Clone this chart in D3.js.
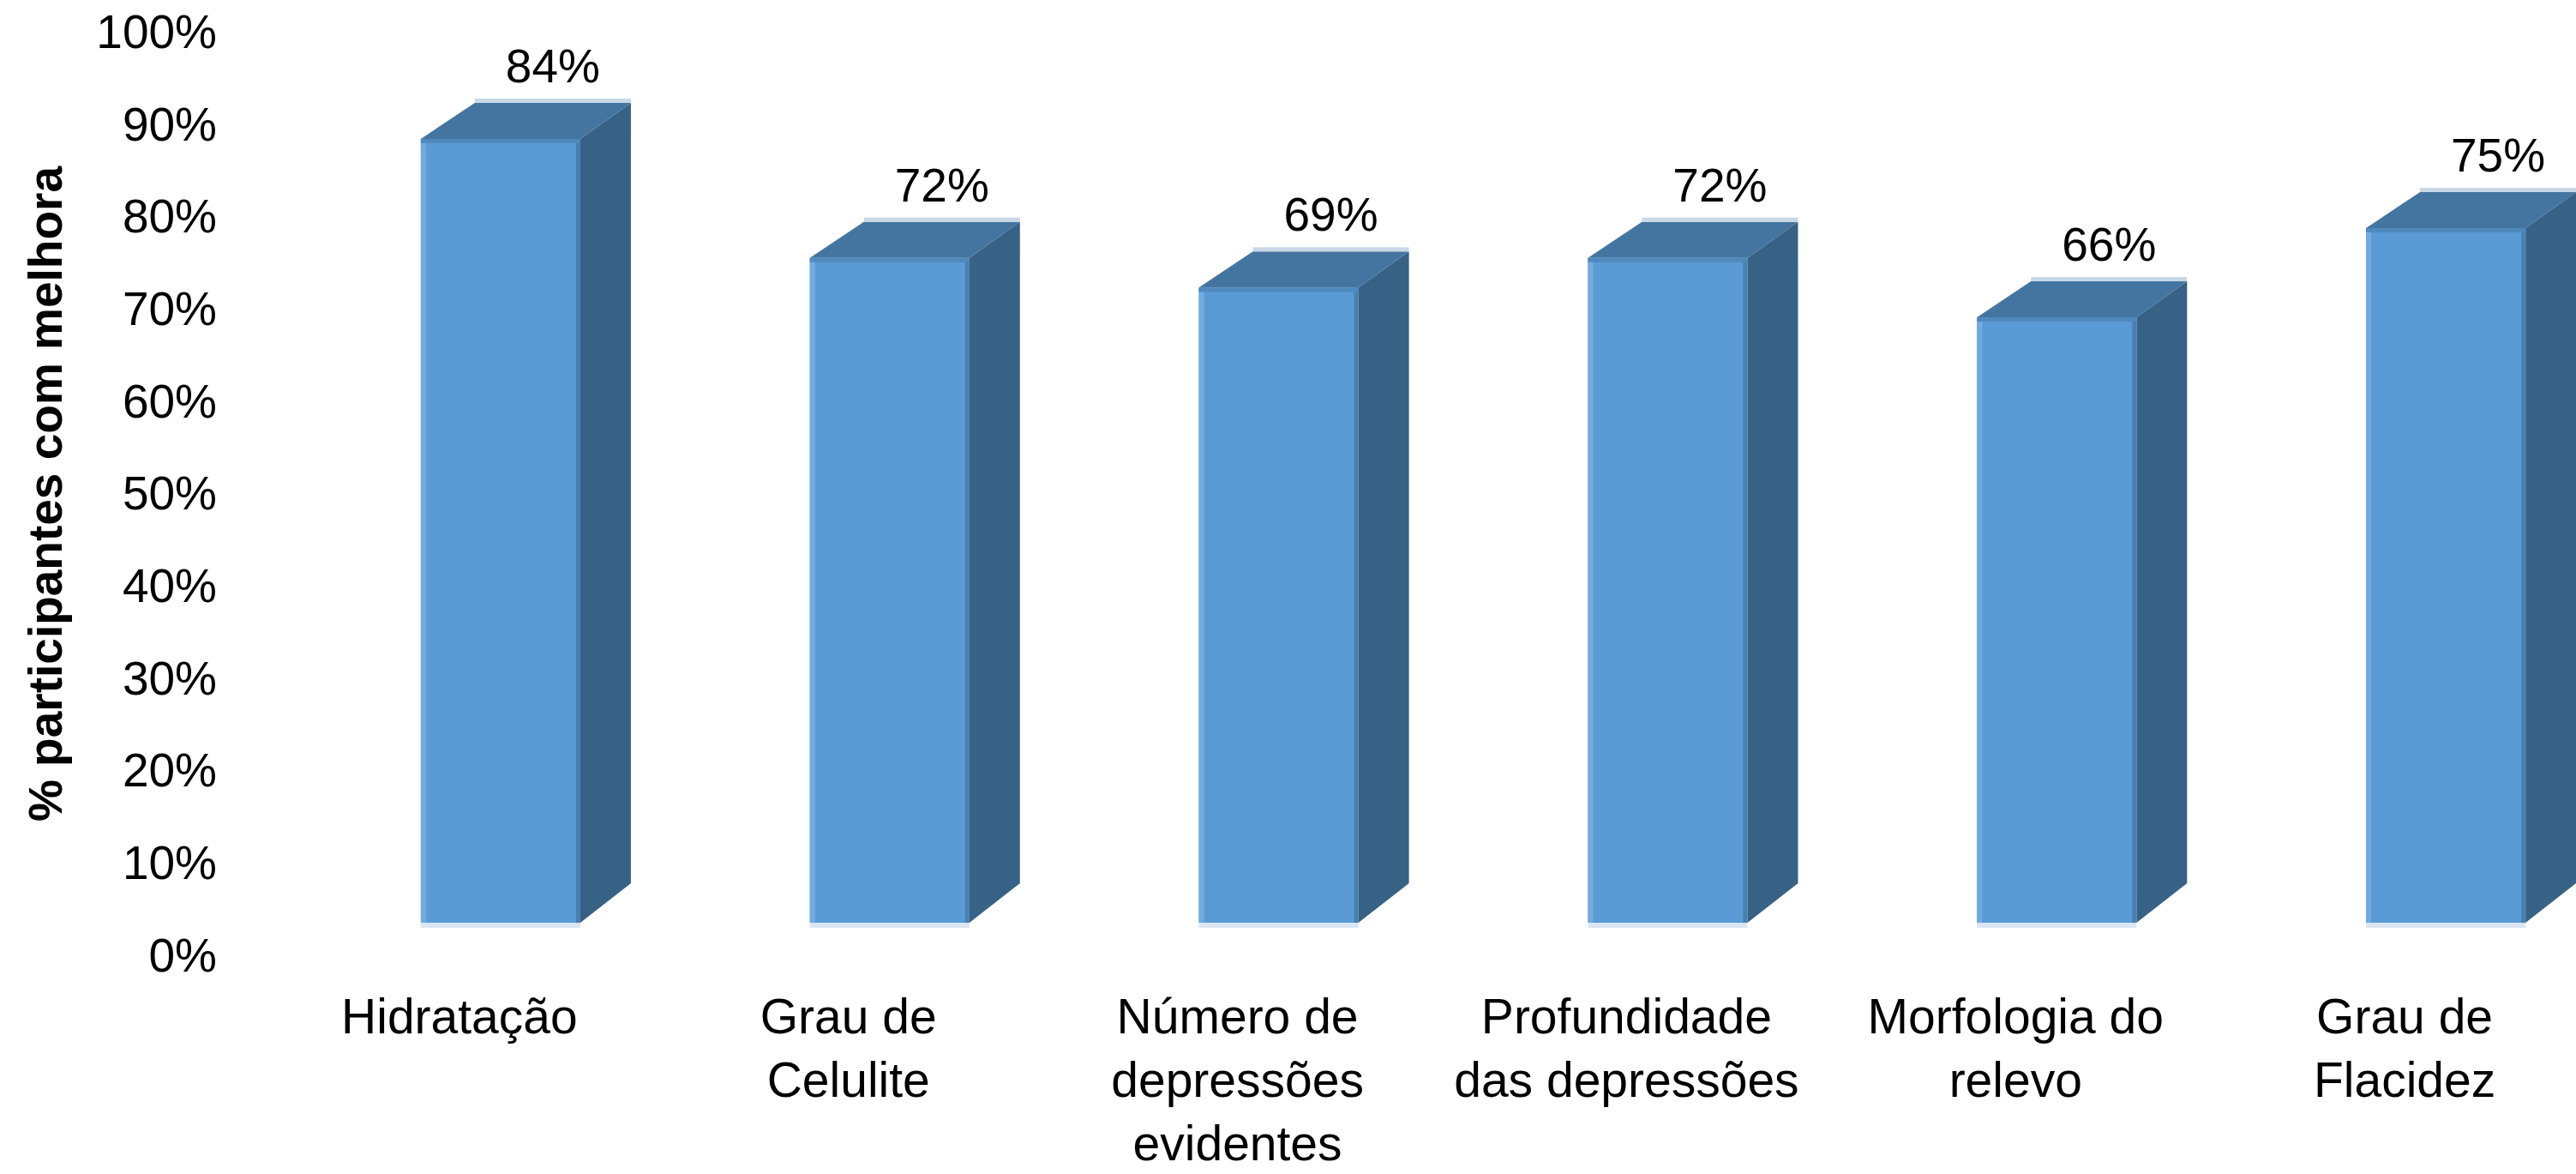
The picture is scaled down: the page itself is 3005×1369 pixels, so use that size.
<!DOCTYPE html>
<html lang="pt">
<head>
<meta charset="utf-8">
<script src="https://cdn.jsdelivr.net/npm/d3@7"></script>
<style>
  html, body { margin: 0; padding: 0; background: #ffffff; }
  svg { display: block; }
  text { font-family: "Liberation Sans", Arial, sans-serif; fill: #000; }
</style>
</head>
<body>
<svg id="chart" width="3005" height="1369"></svg>
<script>
// Categories (multi-line axis labels) and the share of participants who improved
const categories = ["Hidratação", "Grau de Celulite", "Número de depressões evidentes",
                    "Profundidade das depressões", "Morfologia do relevo", "Grau de Flacidez"];
const categoryLines = [
  ["Hidratação"],
  ["Grau de", "Celulite"],
  ["Número de", "depressões", "evidentes"],
  ["Profundidade", "das depressões"],
  ["Morfologia do", "relevo"],
  ["Grau de", "Flacidez"]
];
const values = [0.84, 0.72, 0.69, 0.72, 0.66, 0.75];
const yTicks = [0, 0.1, 0.2, 0.3, 0.4, 0.5, 0.6, 0.7, 0.8, 0.9, 1.0];
const yTitle = "% participantes com melhora";

const svg = d3.select("#chart");

// Value axis on the back wall
const yAxisScale = d3.scaleLinear().domain([0, 1]).range([1113, 36]);
// Front faces of the columns sit closer to the viewer, so they use a larger scale
const yFront = d3.scaleLinear().domain([0, 1]).range([1133, 1133 - 1156]);
const floorY = 1076;

const x = d3.scaleBand()
  .domain(categories)
  .range([357, 3080])
  .paddingInner(0.59)
  .paddingOuter(0.295);

// 3D depth offsets
const dxL = 63, dxR = 59, dyTop = 42, dyBot = 46;

const fmt = d3.format(".0%");

// Tick labels
svg.append("g").attr("class", "y-ticks")
  .selectAll("text").data(yTicks).join("text")
  .attr("x", 253)
  .attr("y", d => yAxisScale(d))
  .attr("dy", "0.36em")
  .attr("text-anchor", "end")
  .attr("font-size", 55)
  .text(d => fmt(d));

// Axis title
svg.append("text")
  .attr("transform", "translate(72," + 576 + ") rotate(-90)")
  .attr("text-anchor", "middle")
  .attr("font-size", 55)
  .attr("font-weight", "bold")
  .text(yTitle);

// Columns
const bars = svg.append("g").attr("class", "bars")
  .selectAll("g").data(categories.map((c, i) => ({ c, v: values[i] })))
  .join("g");

bars.each(function (d) {
  const g = d3.select(this);
  const xl = x(d.c), xr = x(d.c) + x.bandwidth();
  const yt = yFront(d.v);

  // side face
  g.append("polygon")
    .attr("points", [[xr, yt], [xr + dxR, yt - dyTop], [xr + dxR, floorY - dyBot], [xr, floorY]].join(" "))
    .attr("fill", "#386285");
  // top face
  g.append("polygon")
    .attr("points", [[xl, yt], [xl + dxL, yt - dyTop], [xr + dxR, yt - dyTop], [xr, yt]].join(" "))
    .attr("fill", "#4475A1");
  // faint highlight along the back edge of the top face
  g.append("rect")
    .attr("x", xl + dxL).attr("y", yt - dyTop - 5)
    .attr("width", xr + dxR - xl - dxL).attr("height", 5)
    .attr("fill", "#C9D8E6");
  // front face
  g.append("rect")
    .attr("x", xl).attr("y", yt)
    .attr("width", xr - xl).attr("height", floorY - yt)
    .attr("fill", "#5B9BD5");
  // front face edges
  g.append("rect")
    .attr("x", xl).attr("y", yt)
    .attr("width", 6).attr("height", floorY - yt)
    .attr("fill", "#72ABDF");
  g.append("rect")
    .attr("x", xr - 5).attr("y", yt)
    .attr("width", 5).attr("height", floorY - yt)
    .attr("fill", "#4A7FB0");
  g.append("rect")
    .attr("x", xl).attr("y", yt)
    .attr("width", xr - xl).attr("height", 5)
    .attr("fill", "#4F88BC");
  // light line under the front face
  g.append("rect")
    .attr("x", xl).attr("y", floorY)
    .attr("width", xr - xl).attr("height", 6)
    .attr("fill", "#DAE6F3");

  // value label
  g.append("text")
    .attr("x", xl + x.bandwidth() / 2 + 61)
    .attr("y", yt - 66)
    .attr("text-anchor", "middle")
    .attr("font-size", 55)
    .text(fmt(d.v));
});

// Category labels
const labelX = d => x(d) + x.bandwidth() / 2 - 48;
const labels = svg.append("g").attr("class", "x-labels")
  .selectAll("text").data(categories).join("text")
  .attr("text-anchor", "middle")
  .attr("font-size", 57)
  .attr("x", labelX)
  .attr("y", 1205);

labels.each(function (d, i) {
  const t = d3.select(this);
  categoryLines[i].forEach((line, k) => {
    t.append("tspan")
      .attr("x", labelX(d))
      .attr("y", 1205 + k * 74)
      .text(line);
  });
});
</script>
</body>
</html>
